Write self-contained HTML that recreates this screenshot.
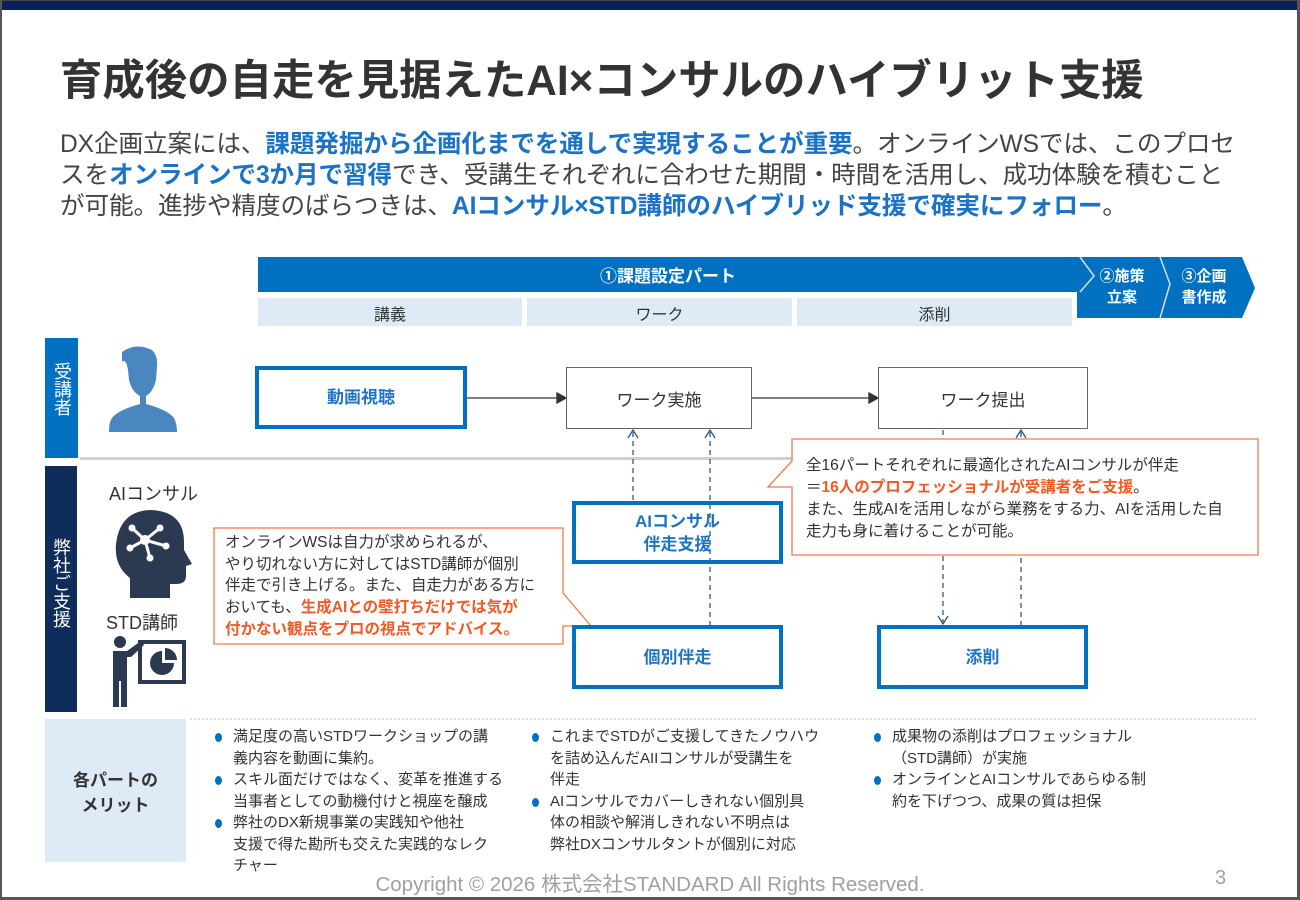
<!DOCTYPE html>
<html><head><meta charset="utf-8"><style>
*{margin:0;padding:0;box-sizing:border-box}
body{width:1300px;height:900px;position:relative;background:#fff;overflow:hidden;font-family:"Liberation Sans","Noto Sans CJK JP",sans-serif;color:#333}
.a{position:absolute;white-space:nowrap}
.box{position:absolute;display:flex;align-items:center;justify-content:center;text-align:center}
.bb{border:4px solid #0070c0;color:#1f74c2;font-weight:bold;font-size:17px;line-height:23px}
.gb{border:1.5px solid #666;font-size:17px;color:#333}
.b{color:#1a73c4;font-weight:bold}
.o{color:#f15a24;font-weight:bold}
.bl li{list-style:none;position:relative;padding-left:18px}
.bl li:before{content:"";position:absolute;left:0;top:7px;width:7px;height:9px;border-radius:50%;background:#0070c0}
.col{position:absolute;top:726px;font-size:15px;line-height:21.5px;color:#333}
</style></head><body>
<div class="a" style="left:0;top:0;width:1300px;height:10px;background:#0a1f5c;border-top:1px solid #444"></div>
<div class="a" style="left:0;top:0;width:2px;height:900px;background:#555"></div>
<div class="a" style="right:0;top:0;width:3px;height:900px;background:#555"></div>
<div class="a" style="left:0;bottom:0;width:1300px;height:3px;background:#555"></div>

<div class="a" style="left:60px;top:47px;font-size:42.4px;font-weight:bold;color:#333;letter-spacing:0px">育成後の自走を見据えたAI×コンサルのハイブリット支援</div>

<div class="a" style="left:60px;top:129px;font-size:24.6px;line-height:31px;color:#444;letter-spacing:-0.1px">DX企画立案には、<span class="b">課題発掘から企画化までを通しで実現することが重要</span>。オンラインWSでは、このプロセ<br>スを<span class="b">オンラインで3か月で習得</span>でき、受講生それぞれに合わせた期間・時間を活用し、成功体験を積むこと<br>が可能。進捗や精度のばらつきは、<span class="b">AIコンサル×STD講師のハイブリッド支援で確実にフォロー</span>。</div>

<svg class="a" style="left:0;top:0" width="1300" height="900">
<polygon points="258,257 1242,257 1255,288 1242,318 1077,318 1077,292 258,292" fill="#0070c0"/>
<polyline points="1080,257 1094,276 1080,292" fill="none" stroke="#cfe2f3" stroke-width="1.5"/>
<polyline points="1160,257 1170,284 1160,318" fill="none" stroke="#cfe2f3" stroke-width="1.5"/>
<rect x="258" y="298" width="264" height="28" fill="#deebf7"/>
<rect x="527" y="298" width="265" height="28" fill="#deebf7"/>
<rect x="797" y="298" width="275" height="28" fill="#deebf7"/>
<rect x="45" y="338" width="33" height="120" fill="#0070c0"/>
<rect x="45" y="466" width="32" height="246" fill="#0e2c5c"/>
<rect x="80" y="457" width="1178" height="3" fill="#cfcfd4"/>
<g fill="#4a86bf"><path d="M122,352 q14,-10 30,-2 q6,6 5,16 l-1,14 q-3,12 -10,16 l0,8 q22,6 28,14 q3,6 3,14 l-68,0 q0,-10 3,-14 q6,-8 28,-14 l0,-8 q-8,-4 -11,-16 l-1,-10 q-2,-12 -6,-8 z"/></g>
<g fill="#2b3a50"><path d="M152,510 q32,2 32,32 l0,8 l8,14 l-6,2 l0,10 q0,8 -10,8 l-6,0 l0,14 l-40,0 l0,-20 q-16,-12 -14,-34 q4,-34 36,-34 z"/>
<g stroke="#fff" stroke-width="3"><line x1="145" y1="540" x2="132" y2="528"/><line x1="145" y1="540" x2="160" y2="528"/><line x1="145" y1="540" x2="130" y2="548"/><line x1="145" y1="540" x2="150" y2="558"/><line x1="145" y1="540" x2="166" y2="546"/></g>
<g fill="#fff"><circle cx="145" cy="540" r="5"/><circle cx="132" cy="528" r="3.5"/><circle cx="160" cy="528" r="3.5"/><circle cx="130" cy="548" r="3.5"/><circle cx="150" cy="558" r="3.5"/><circle cx="166" cy="546" r="3.5"/></g></g>
<g fill="#2b3a50"><circle cx="120" cy="642" r="6"/><path d="M113,651 l14,0 l14,-10 l3,4 l-13,12 l-4,0 l0,50 l-6,0 l0,-26 l-2,0 l0,26 l-6,0 z"/>
<rect x="140" y="642" width="44" height="40" fill="none" stroke="#2b3a50" stroke-width="4"/><path d="M162,651 a12,12 0 1 0 12,12 l-12,0 z"/><path d="M165,648 a12,12 0 0 1 12,12 l-12,0 z"/></g>
<g stroke="#333" stroke-width="1.3" fill="#333"><line x1="466" y1="398" x2="558" y2="398"/><polygon points="566,398 557,393 557,403"/>
<line x1="751" y1="398" x2="870" y2="398"/><polygon points="878,398 869,393 869,403"/></g>
<g stroke="#1f4e79" stroke-width="1.2" stroke-dasharray="5,4" fill="none">
<line x1="633" y1="432" x2="633" y2="501"/><line x1="710" y1="432" x2="710" y2="625"/><line x1="943" y1="430" x2="943" y2="622"/><line x1="1021" y1="432" x2="1021" y2="625"/></g>
<g stroke="#1f4e79" stroke-width="1.2" fill="none"><polyline points="628,438 633,430 638,438"/><polyline points="705,438 710,430 715,438"/><polyline points="938,616 943,624 948,616"/><polyline points="1016,438 1021,430 1026,438"/></g>
<path d="M792,439 L1258,439 L1258,555 L792,555 L792,487 L768,487 L792,461 Z" fill="#fff" stroke="#f4794a" stroke-width="1.3"/>
<path d="M214,528 L563,528 L563,593 L591,626 L563,626 L563,644 L214,644 Z" fill="#fff" stroke="#f4794a" stroke-width="1.3"/>
<line x1="190" y1="719" x2="1258" y2="719" stroke="#bbb" stroke-width="1" stroke-dasharray="2,2"/>
<rect x="45" y="719" width="141" height="143" fill="#deebf7"/>
</svg>

<div class="a" style="left:258px;top:262px;width:820px;text-align:center;color:#fff;font-weight:bold;font-size:17px">①課題設定パート</div>
<div class="a" style="left:1084px;top:266px;width:76px;text-align:center;color:#fff;font-weight:bold;font-size:15px;line-height:21px">②施策<br>立案</div>
<div class="a" style="left:1164px;top:266px;width:80px;text-align:center;color:#fff;font-weight:bold;font-size:15px;line-height:21px">③企画<br>書作成</div>
<div class="a" style="left:258px;top:301px;width:264px;text-align:center;font-size:16px">講義</div>
<div class="a" style="left:527px;top:301px;width:265px;text-align:center;font-size:16px">ワーク</div>
<div class="a" style="left:797px;top:301px;width:275px;text-align:center;font-size:16px">添削</div>

<div class="a" style="left:45px;top:362px;width:33px;color:#fff;font-size:18px;writing-mode:vertical-rl;line-height:33px">受講者</div>
<div class="a" style="left:45px;top:538px;width:32px;color:#fff;font-size:18px;writing-mode:vertical-rl;line-height:32px">弊社ご支援</div>
<div class="a" style="left:109px;top:480px;font-size:18px;color:#333">AIコンサル</div>
<div class="a" style="left:106px;top:609px;font-size:18px;color:#333">STD講師</div>

<div class="box bb" style="left:255px;top:366px;width:212px;height:63px">動画視聴</div>
<div class="box gb" style="left:566px;top:367px;width:186px;height:62px">ワーク実施</div>
<div class="box gb" style="left:878px;top:367px;width:210px;height:62px">ワーク提出</div>
<div class="box bb" style="left:572px;top:501px;width:211px;height:63px">AIコンサル<br>伴走支援</div>
<div class="box bb" style="left:572px;top:625px;width:211px;height:64px">個別伴走</div>
<div class="box bb" style="left:877px;top:625px;width:211px;height:64px">添削</div>

<div class="a" style="left:806px;top:455px;font-size:15.5px;line-height:22px;color:#333">全16パートそれぞれに最適化されたAIコンサルが伴走<br>＝<span class="o">16人のプロフェッショナルが受講者をご支援</span>。<br>また、生成AIを活用しながら業務をする力、AIを活用した自<br>走力も身に着けることが可能。</div>
<div class="a" style="left:225px;top:532px;font-size:15.5px;line-height:21.7px;color:#333">オンラインWSは自力が求められるが、<br>やり切れない方に対してはSTD講師が個別<br>伴走で引き上げる。また、自走力がある方に<br>おいても、<span class="o">生成AIとの壁打ちだけでは気が</span><br><span class="o">付かない観点をプロの視点でアドバイス。</span></div>

<div class="a" style="left:45px;top:768px;width:141px;text-align:center;font-weight:bold;font-size:17px;line-height:25px;color:#333">各パートの<br>メリット</div>
<ul class="col bl" style="left:215px"><li>満足度の高いSTDワークショップの講<br>義内容を動画に集約。</li><li>スキル面だけではなく、変革を推進する<br>当事者としての動機付けと視座を醸成</li><li>弊社のDX新規事業の実践知や他社<br>支援で得た勘所も交えた実践的なレク<br>チャー</li></ul>
<ul class="col bl" style="left:532px"><li>これまでSTDがご支援してきたノウハウ<br>を詰め込んだAIIコンサルが受講生を<br>伴走</li><li>AIコンサルでカバーしきれない個別具<br>体の相談や解消しきれない不明点は<br>弊社DXコンサルタントが個別に対応</li></ul>
<ul class="col bl" style="left:874px"><li>成果物の添削はプロフェッショナル<br>（STD講師）が実施</li><li>オンラインとAIコンサルであらゆる制<br>約を下げつつ、成果の質は担保</li></ul>

<div class="a" style="left:0;top:867px;width:1300px;text-align:center;font-size:20.5px;color:#a0a0a0">Copyright © 2026 株式会社STANDARD All Rights Reserved.</div>
<div class="a" style="left:1215px;top:867px;font-size:20px;color:#a0a0a0">3</div>
</body></html>
